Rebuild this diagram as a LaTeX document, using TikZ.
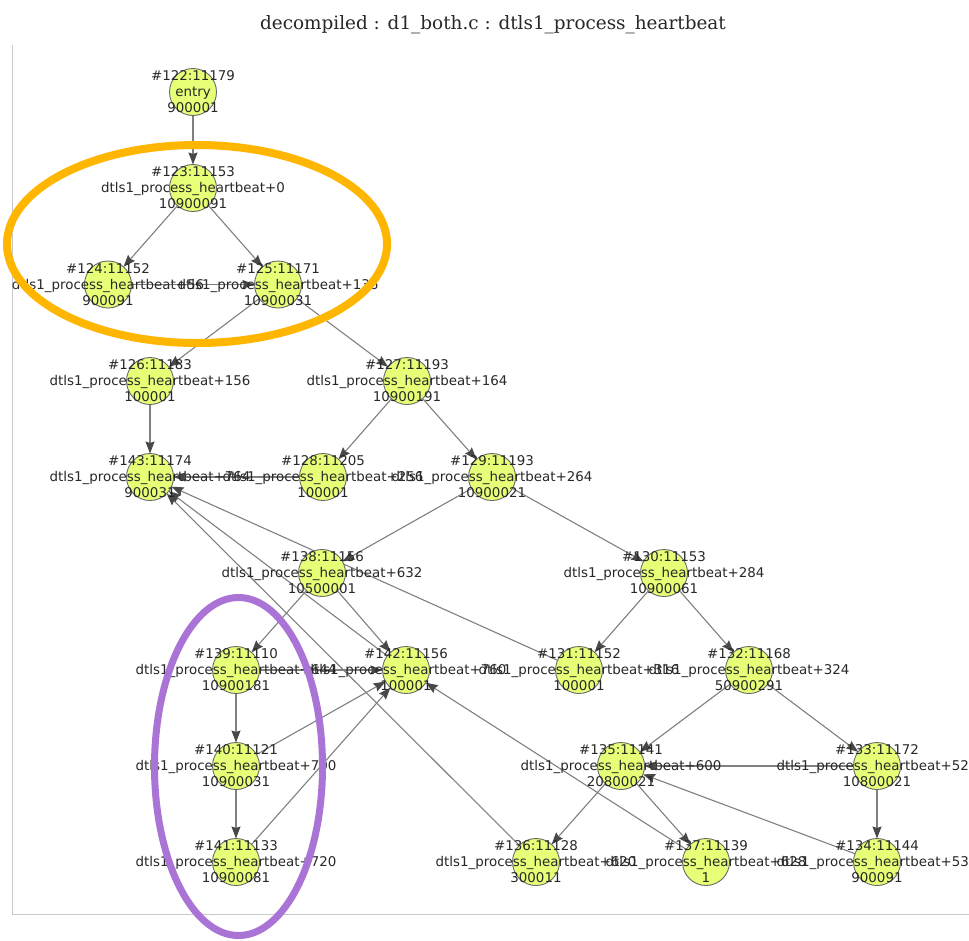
\documentclass[tikz,border=0pt]{standalone}
\usepackage{fontspec}
\setmainfont{DejaVu Sans}
\newfontfamily\titlefont{DejaVu Serif}
\usetikzlibrary{arrows.meta}
\pgfdeclarelayer{edges}
\pgfdeclarelayer{labels}
\pgfsetlayers{edges,main,labels}

\definecolor{vfill}{RGB}{229,255,118}
\definecolor{vline}{RGB}{105,105,105}
\definecolor{eline}{RGB}{128,128,128}
\definecolor{etip}{RGB}{72,72,72}
\definecolor{txt}{RGB}{40,40,40}
\definecolor{frame}{RGB}{200,200,200}
\definecolor{hlorange}{RGB}{255,182,0}
\definecolor{hlpurple}{RGB}{170,116,214}

\tikzset{
  vtx/.style={circle, draw=vline, line width=0.9bp, fill=vfill,
              minimum size=47bp, inner sep=0pt, outer sep=0pt},
  lbl/.style={align=center, inner sep=0pt, text=txt,
              font=\fontsize{13.4bp}{16bp}\selectfont},
  edge/.style={draw=eline, line width=1.1bp,
               -{Stealth[length=12bp, width=9bp, inset=1.5bp, color=etip]}},
  ring/.style={line width=#1},
}

% one block of the control-flow graph: circle plus its three text lines
\newcommand\cfgnode[6]{%
  \node[vtx] (#1) at (#2,#3) {};
  \begin{pgfonlayer}{labels}
    \node[lbl] (#1t) at (#2,#3) {#4\\#5\\#6};
  \end{pgfonlayer}}

\begin{document}
\begin{tikzpicture}[x=1bp, y=-1bp]
\useasboundingbox (0,0) rectangle (969,941);
\begin{pgfonlayer}{edges}
  \fill[white] (0,0) rectangle (969,941);
  % panel border
  \draw[frame, line width=1bp] (12,45) -- (12,914) -- (969,914);
\end{pgfonlayer}

% title
\node[font=\titlefont\fontsize{18.4bp}{22bp}\selectfont, text=txt] (title) at (493,25)
  {decompiled : d1\_both.c : dtls1\_process\_heartbeat};

% blocks
\cfgnode{v122}{193}{92}{\#122:11179}{entry}{900001}
\cfgnode{v123}{193}{188}{\#123:11153}{dtls1\_process\_heartbeat+0}{10900091}
\cfgnode{v124}{108}{284.5}{\#124:11152}{dtls1\_process\_heartbeat+56}{900091}
\cfgnode{v125}{278}{284.5}{\#125:11171}{dtls1\_process\_heartbeat+136}{10900031}
\cfgnode{v126}{150}{381}{\#126:11183}{dtls1\_process\_heartbeat+156}{100001}
\cfgnode{v127}{407}{381}{\#127:11193}{dtls1\_process\_heartbeat+164}{10900191}
\cfgnode{v143}{150}{477}{\#143:11174}{dtls1\_process\_heartbeat+764}{900031}
\cfgnode{v128}{323}{477}{\#128:11205}{dtls1\_process\_heartbeat+256}{100001}
\cfgnode{v129}{492}{477}{\#129:11193}{dtls1\_process\_heartbeat+264}{10900021}
\cfgnode{v138}{322}{573}{\#138:11156}{dtls1\_process\_heartbeat+632}{10500001}
\cfgnode{v130}{664}{573}{\#130:11153}{dtls1\_process\_heartbeat+284}{10900061}
\cfgnode{v139}{236}{670}{\#139:11110}{dtls1\_process\_heartbeat+644}{10900181}
\cfgnode{v142}{406}{670}{\#142:11156}{dtls1\_process\_heartbeat+760}{100001}
\cfgnode{v131}{579}{670}{\#131:11152}{dtls1\_process\_heartbeat+316}{100001}
\cfgnode{v132}{749}{670}{\#132:11168}{dtls1\_process\_heartbeat+324}{50900291}
\cfgnode{v140}{236}{766}{\#140:11121}{dtls1\_process\_heartbeat+700}{10900031}
\cfgnode{v135}{621}{766}{\#135:11141}{dtls1\_process\_heartbeat+600}{20800021}
\cfgnode{v133}{877}{766}{\#133:11172}{dtls1\_process\_heartbeat+528}{10800021}
\cfgnode{v141}{236}{862}{\#141:11133}{dtls1\_process\_heartbeat+720}{10900081}
\cfgnode{v136}{536}{862}{\#136:11128}{dtls1\_process\_heartbeat+620}{300011}
\cfgnode{v137}{706}{862}{\#137:11139}{dtls1\_process\_heartbeat+628}{1}
\cfgnode{v134}{877}{862}{\#134:11144}{dtls1\_process\_heartbeat+536}{900091}

% control-flow edges
\begin{pgfonlayer}{edges}
  \draw[edge] (v122) -- (v123);
  \draw[edge] (v123) -- (v124);
  \draw[edge] (v123) -- (v125);
  \draw[edge] (v124) -- (v125);
  \draw[edge] (v125) -- (v126);
  \draw[edge] (v125) -- (v127);
  \draw[edge] (v126) -- (v143);
  \draw[edge] (v127) -- (v128);
  \draw[edge] (v127) -- (v129);
  \draw[edge] (v128) -- (v143);
  \draw[edge] (v129) -- (v138);
  \draw[edge] (v129) -- (v130);
  \draw[edge] (v130) -- (v131);
  \draw[edge] (v130) -- (v132);
  \draw[edge] (v131) -- (v143);
  \draw[edge] (v132) -- (v135);
  \draw[edge] (v132) -- (v133);
  \draw[edge] (v133) -- (v135);
  \draw[edge] (v133) -- (v134);
  \draw[edge] (v134) -- (v135);
  \draw[edge] (v135) -- (v136);
  \draw[edge] (v135) -- (v137);
  \draw[edge] (v136) -- (v143);
  \draw[edge] (v137) -- (v142);
  \draw[edge] (v138) -- (v139);
  \draw[edge] (v138) -- (v142);
  \draw[edge] (v139) -- (v140);
  \draw[edge] (v139) -- (v142);
  \draw[edge] (v140) -- (v141);
  \draw[edge] (v140) -- (v142);
  \draw[edge] (v141) -- (v142);
  \draw[edge] (v142) -- (v143);
\end{pgfonlayer}

% highlight rings
\begin{pgfonlayer}{labels}
  \draw[hlorange, ring=8bp] (197,244) ellipse [x radius=190, y radius=99];
  \draw[hlpurple, ring=7bp] (238.5,766.5) ellipse [x radius=84, y radius=169];
\end{pgfonlayer}
\end{tikzpicture}
\end{document}
